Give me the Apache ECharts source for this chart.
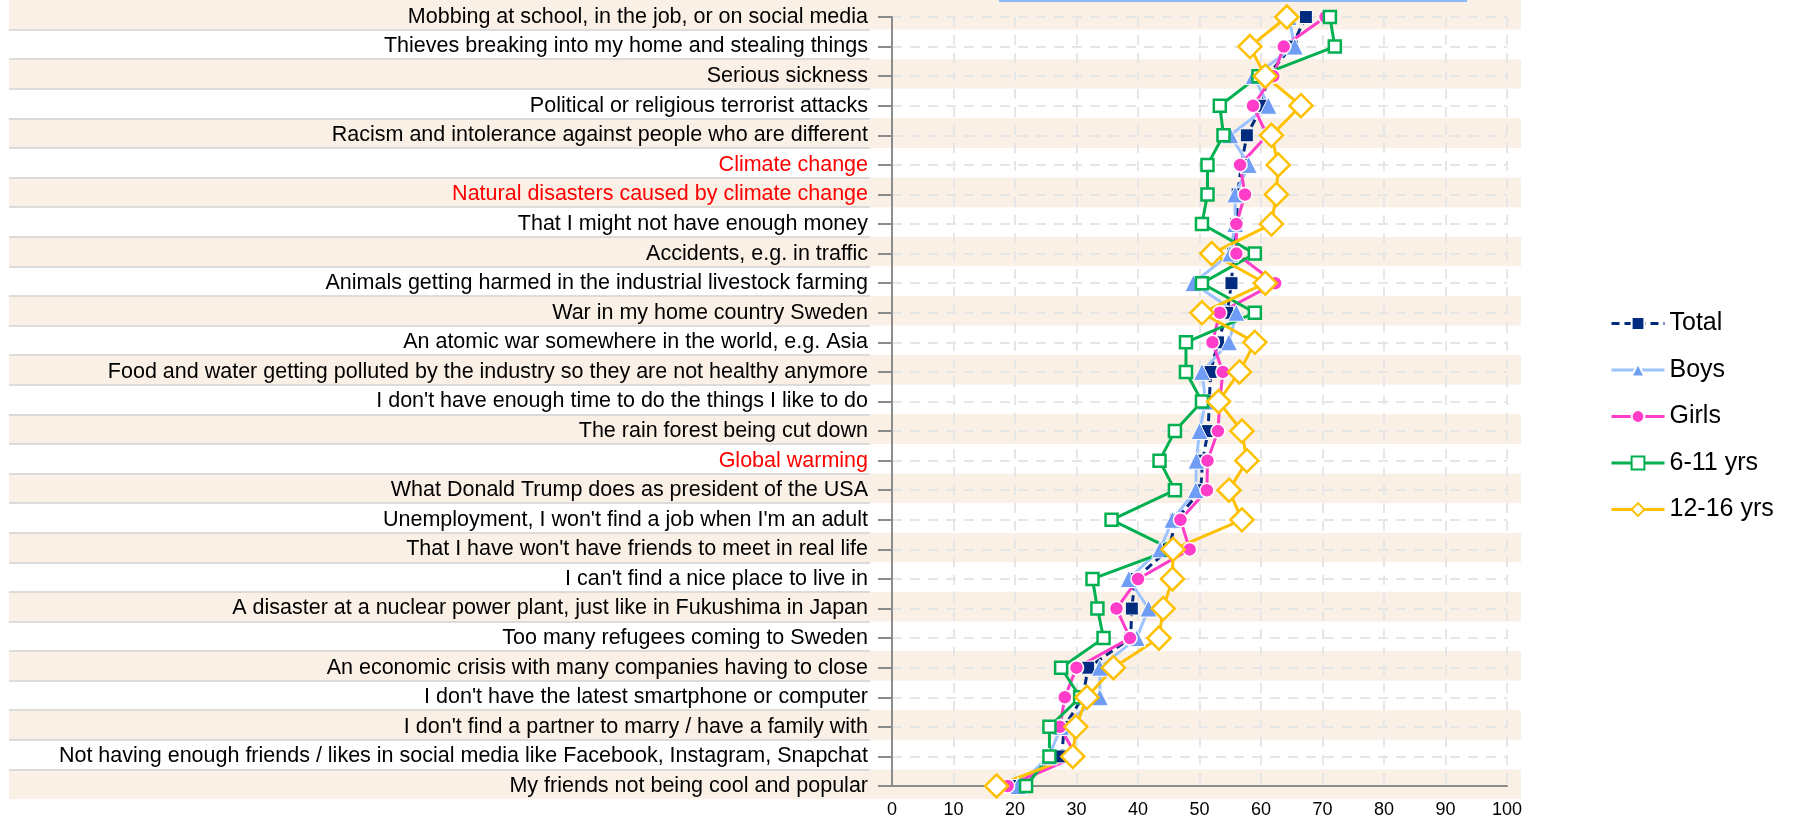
<!DOCTYPE html>
<html>
<head>
<meta charset="utf-8">
<title>Fears</title>
<script src="https://cdn.jsdelivr.net/npm/echarts@6/dist/echarts.min.js"></script>
<style>
  html, body { margin: 0; padding: 0; background: #fff; }
  #chart { width: 1797px; height: 820px; }
</style>
</head>
<body>
<div id="chart"></div>
<script>
// categories, top to bottom
const categories = [
  'Mobbing at school, in the job, or on social media',
  'Thieves breaking into my home and stealing things',
  'Serious sickness',
  'Political or religious terrorist attacks',
  'Racism and intolerance against people who are different',
  'Climate change',
  'Natural disasters caused by climate change',
  'That I might not have enough money',
  'Accidents, e.g. in traffic',
  'Animals getting harmed in the industrial livestock farming',
  'War in my home country Sweden',
  'An atomic war somewhere in the world, e.g. Asia',
  'Food and water getting polluted by the industry so they are not healthy anymore',
  "I don't have enough time to do the things I like to do",
  'The rain forest being cut down',
  'Global warming',
  'What Donald Trump does as president of the USA',
  "Unemployment, I won't find a job when I'm an adult",
  "That I have won't have friends to meet in real life",
  "I can't find a nice place to live in",
  'A disaster at a nuclear power plant, just like in Fukushima in Japan',
  'Too many refugees coming to Sweden',
  'An economic crisis with many companies having to close',
  "I don't have the latest smartphone or computer",
  "I don't find a partner to marry / have a family with",
  'Not having enough friends / likes in social media like Facebook, Instagram, Snapchat',
  'My friends not being cool and popular'
];
// labels shown in red
const redLabels = ['Climate change', 'Natural disasters caused by climate change', 'Global warming'];

const total = [67.3, 65, 61, 60.2, 57.7, 56.8, 56.2, 56, 55.5, 55.2, 54.5, 53, 51.8, 51.6, 51.4, 50.5, 50.2, 46.2, 45, 39.5, 39, 38.8, 31.9, 31, 28, 27.6, 19.5];
const boys = [64.5, 65.5, 58.8, 61.2, 55, 58, 55.8, 55.8, 55, 49, 56, 54.8, 50.4, 51, 50, 49.5, 49.4, 45.6, 43.6, 38.5, 41.7, 39.8, 33.8, 33.8, 27.5, 25.5, 20.5];
const girls = [70.5, 63.7, 62, 58.7, 61, 56.6, 57.4, 56, 56, 62.3, 53.3, 52.1, 53.8, 53.3, 53, 51.3, 51.2, 46.9, 48.4, 40, 36.5, 38.7, 30, 28.1, 27.3, 30, 18.8];
const yrs6to11 = [71.2, 72, 59.6, 53.3, 53.9, 51.3, 51.3, 50.4, 59, 50.4, 59, 47.8, 47.8, 50.4, 46, 43.5, 46, 35.7, 45.5, 32.6, 33.4, 34.4, 27.5, 30.6, 25.6, 25.6, 21.8];
const yrs12to16 = [64.2, 58.2, 60.7, 66.5, 61.7, 62.8, 62.5, 61.7, 52, 60.7, 50.4, 59, 56.5, 53.1, 56.9, 57.7, 54.8, 56.9, 45.7, 45.6, 44.1, 43.4, 36, 31.7, 29.9, 29.4, 17];

const FONT = "'Liberation Sans', Arial, sans-serif";

const chart = echarts.init(document.getElementById('chart'));

const labelData = categories.map(c => redLabels.includes(c)
  ? { value: c, textStyle: { color: '#ff0000' } }
  : c);

// every other row gets a shaded band, starting with the first one
const bandData = categories.map((c, i) => (i % 2 === 0 ? 1 : 0));

chart.setOption({
  animation: false,
  textStyle: { fontFamily: FONT },
  graphic: [{
    type: 'rect',
    left: 999, top: 0,
    shape: { width: 468, height: 2 },
    style: { fill: '#8cb9f5' }
  }],
  grid: [
    { left: 892, right: 290, top: 17, bottom: 34, outerBoundsMode: 'none' },   // main plot
    { left: 9, width: 1512, top: 0, height: 799, outerBoundsMode: 'none' },    // row bands
    { left: 9, width: 861, top: 0, height: 799, outerBoundsMode: 'none' }      // separators behind labels
  ],
  xAxis: [
    {
      gridIndex: 0, type: 'value', min: 0, max: 100, interval: 10,
      axisLine: { show: true, lineStyle: { color: '#8c8c8c', width: 2 } },
      axisTick: { show: false },
      axisLabel: { color: '#000', fontSize: 18, fontFamily: FONT, margin: 15 },
      splitLine: { show: true, lineStyle: { color: '#e6e6e6', width: 2, type: [10, 8] } }
    },
    { gridIndex: 1, type: 'value', min: 0, max: 1, show: false },
    { gridIndex: 2, type: 'value', show: false }
  ],
  yAxis: [
    {
      gridIndex: 0, type: 'category', inverse: true, boundaryGap: false,
      data: labelData,
      axisLine: { show: true, lineStyle: { color: '#8c8c8c', width: 2 } },
      axisTick: { show: true, length: 14, interval: 0, lineStyle: { color: '#8c8c8c', width: 2 } },
      axisLabel: { interval: 0, color: '#000', fontSize: 21.5, fontFamily: FONT, margin: 24 },
      splitLine: { show: true, interval: 0, lineStyle: { color: '#e6e6e6', width: 2, type: [10, 8] } }
    },
    {
      gridIndex: 1, type: 'category', inverse: true, boundaryGap: true,
      data: categories, show: false
    },
    {
      gridIndex: 2, type: 'category', inverse: true, boundaryGap: true, z: -1,
      data: categories,
      axisLine: { show: false }, axisTick: { show: false }, axisLabel: { show: false },
      splitLine: { show: true, interval: 0, showMinLine: false, showMaxLine: false,
        lineStyle: { color: '#d2d2d2', width: 1.5 } }
    }
  ],
  legend: {
    orient: 'vertical',
    left: 1610, top: 311, padding: 0,
    itemWidth: 53, itemHeight: 16, itemGap: 21.5,
    lineStyle: { width: 3 },
    textStyle: { fontSize: 25, color: '#000', fontFamily: FONT },
    data: ['Total', 'Boys', 'Girls', '6-11 yrs', '12-16 yrs']
  },
  series: [
    {
      name: 'bands', type: 'bar', xAxisIndex: 1, yAxisIndex: 1,
      data: bandData, barWidth: '100%', silent: true, z: -2,
      itemStyle: { color: '#faf0e6' }
    },
    {
      name: 'Total', type: 'line', data: total,
      symbol: 'rect', symbolSize: 13,
      lineStyle: { color: '#002b7f', width: 3, type: [8, 5] },
      itemStyle: { color: '#002b7f', borderColor: '#fff', borderWidth: 1 }
    },
    {
      name: 'Boys', type: 'line', data: boys,
      symbol: 'triangle', symbolSize: 17,
      lineStyle: { color: '#9cc2ff', width: 3 },
      itemStyle: { color: '#6f9cf4', borderColor: '#fff', borderWidth: 1 }
    },
    {
      name: 'Girls', type: 'line', data: girls,
      symbol: 'circle', symbolSize: 14,
      lineStyle: { color: '#ff3dc8', width: 3 },
      itemStyle: { color: '#ff3dc8', borderColor: '#fff', borderWidth: 1.5 }
    },
    {
      name: '6-11 yrs', type: 'line', data: yrs6to11,
      symbol: 'rect', symbolSize: 12,
      lineStyle: { color: '#00b050', width: 3 },
      itemStyle: { color: '#fff', borderColor: '#00b050', borderWidth: 2.5 }
    },
    {
      name: '12-16 yrs', type: 'line', data: yrs12to16,
      symbol: 'diamond', symbolSize: 23,
      lineStyle: { color: '#ffc000', width: 3 },
      itemStyle: { color: '#fff', borderColor: '#ffc000', borderWidth: 2.5 }
    }
  ]
});
</script>
</body>
</html>
